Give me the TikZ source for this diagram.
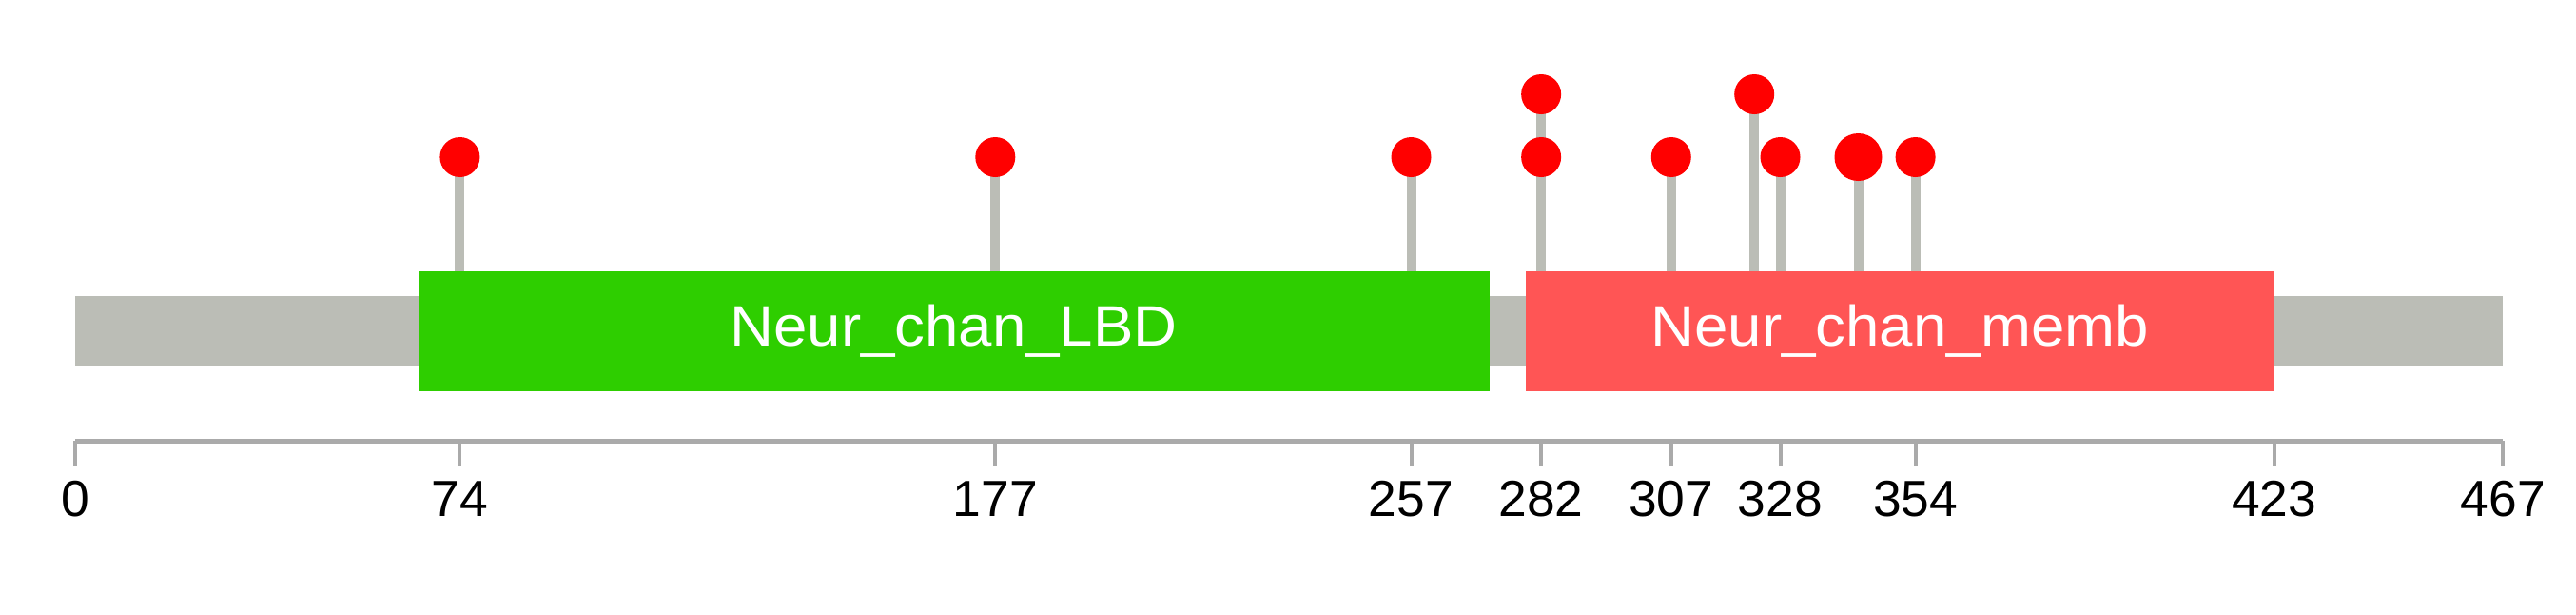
\documentclass[tikz,border=0pt]{standalone}
\usepackage{fontspec}
\setmainfont{Liberation Sans}
\newfontfamily\domfont[FakeStretch=1.06]{Liberation Sans}
\usepackage{xcolor}
\usepackage{tikz}
\usetikzlibrary{backgrounds}
\definecolor{protgray}{HTML}{BBBDB6}
\definecolor{axisgray}{HTML}{AAAAAA}
\definecolor{lbdgreen}{HTML}{2ECE00}
\definecolor{membred}{HTML}{FF5555}
\definecolor{sitered}{HTML}{FF0000}

\begin{document}
\begin{tikzpicture}[
  x=2.7325pt, y=-0.5pt,
  domlabel/.style={text=white, font=\domfont\fontsize{30}{30}\selectfont, inner sep=0pt},
  site/.style={circle, fill=sitered, inner sep=0pt, minimum size=21pt},
  bigsite/.style={site, minimum size=25pt},
  stem/.style={draw=protgray, line width=5pt},
  axisline/.style={draw=axisgray, line width=2.5pt},
  axtick/.style={draw=axisgray, line width=2pt},
  ticklabel/.style={font=\fontsize{26.7}{27}\selectfont, anchor=base, inner sep=0pt}
]
\useasboundingbox (-14.456,0) rectangle (481.06,645);
% backbone and domains
\fill[protgray] (0,311) rectangle (467,384);
\fill[lbdgreen] (66,285) rectangle (272,411);
\fill[membred] (279,285) rectangle (423,411);
\node[domlabel] (lbd) at (169,348) {Neur\_chan\_LBD};
\node[domlabel] (memb) at (351,348) {Neur\_chan\_memb};
% sites
\foreach \pos/\ht in {74/165, 177/165, 257/165, 282/99, 282/165, 307/165, 323/99, 328/165, 354/165} {
  \coordinate (b\pos) at (\pos,285);
  \node[site] (s\pos-\ht) at (\pos,\ht) {};
  \begin{scope}[on background layer]
    \draw[stem] (b\pos) -- (s\pos-\ht.center);
  \end{scope}
}
\coordinate (b343) at (343,285);
\node[bigsite] (s343) at (343,165) {};
\begin{scope}[on background layer]
  \draw[stem] (b343) -- (s343.center);
\end{scope}
% axis
\coordinate (a0) at (0,463);
\coordinate (a467) at (467,463);
\draw[axisline] (a0) -- (a467);
\foreach \pos in {0,74,177,257,282,307,328,354,423,467} {
  \coordinate (t\pos) at (\pos,463);
  \node[ticklabel] (l\pos) at (\pos,542) {\pos};
  \draw[axtick] (t\pos) -- ++(0,26);
}
\end{tikzpicture}
\end{document}
